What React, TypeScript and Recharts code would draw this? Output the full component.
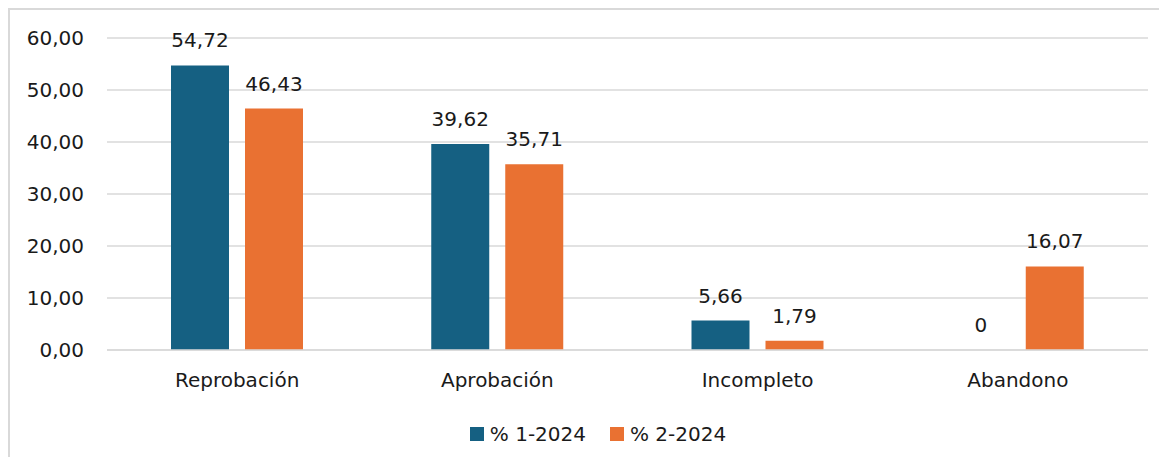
import React from "react";
import { BarChart, Bar, XAxis, YAxis, CartesianGrid, Legend, LabelList } from "recharts";

const categories = ["Reprobación", "Aprobación", "Incompleto", "Abandono"];
const series1Values = [54.72, 39.62, 5.66, 0];
const series2Values = [46.43, 35.71, 1.79, 16.07];
const seriesNames = ["% 1-2024", "% 2-2024"];
const yTicks = [0, 10, 20, 30, 40, 50, 60];

const COLOR1 = "#156082";
const COLOR2 = "#E97132";
const GRID = "#D9D9D9";
const TEXT = "#1a1a1a";
const FONT = "'DejaVu Sans', sans-serif";

const data = categories.map((c, i) => ({ name: c, s1: series1Values[i], s2: series2Values[i] }));

const fmtLabel = (v: any) => (Number(v) === 0 ? "0" : Number(v).toFixed(2).replace(".", ","));
const fmtTick = (v: any) => Number(v).toFixed(2).replace(".", ",");
const tinyForZero = (v: any) => (Number(v) === 0 ? 0.01 : 0);

const LegendContent = () => (
  <div
    style={{
      width: "100%",
      height: 30,
      display: "flex",
      justifyContent: "center",
      alignItems: "center",
      paddingLeft: 38,
      boxSizing: "border-box",
      fontFamily: FONT,
      fontSize: 20,
      color: TEXT,
    }}
  >
    {[COLOR1, COLOR2].map((c, i) => (
      <div key={i} style={{ display: "flex", alignItems: "center", marginLeft: i === 0 ? 0 : 24 }}>
        <span style={{ display: "inline-block", width: 14, height: 14, background: c, marginRight: 6 }} />
        <span>{seriesNames[i]}</span>
      </div>
    ))}
  </div>
);

export default function App() {
  return (
    <div
      style={{
        width: 1159,
        height: 449,
        borderLeft: `2px solid ${GRID}`,
        borderTop: `2px solid ${GRID}`,
        boxSizing: "border-box",
        background: "#fff",
      }}
    >
      <BarChart
        width={1157}
        height={447}
        data={data}
        margin={{ top: 28, right: 19, left: 0, bottom: 8 }}
        barSize={58}
        barGap={16}
        style={{ fontFamily: FONT }}
      >
        <CartesianGrid vertical={false} stroke={GRID} strokeWidth={1.5} />
        <XAxis
          dataKey="name"
          height={69}
          tickLine={false}
          tickSize={0}
          tickMargin={23}
          axisLine={{ stroke: GRID, strokeWidth: 1.5 }}
          tick={{ fill: TEXT, fontSize: 20, fontFamily: FONT }}
        />
        <YAxis
          width={97}
          domain={[0, 60]}
          ticks={yTicks}
          interval={0}
          axisLine={false}
          tickLine={false}
          tickSize={0}
          tickMargin={23}
          tickFormatter={fmtTick}
          tick={{ fill: TEXT, fontSize: 20, fontFamily: FONT }}
        />
        <Legend verticalAlign="bottom" content={<LegendContent />} />
        <Bar dataKey="s1" name={seriesNames[0]} fill={COLOR1} minPointSize={tinyForZero} isAnimationActive={false}>
          <LabelList dataKey="s1" position="top" offset={18} formatter={fmtLabel} fill={TEXT} fontSize={20} fontFamily={FONT} />
        </Bar>
        <Bar dataKey="s2" name={seriesNames[1]} fill={COLOR2} minPointSize={tinyForZero} isAnimationActive={false}>
          <LabelList dataKey="s2" position="top" offset={18} formatter={fmtLabel} fill={TEXT} fontSize={20} fontFamily={FONT} />
        </Bar>
      </BarChart>
    </div>
  );
}
